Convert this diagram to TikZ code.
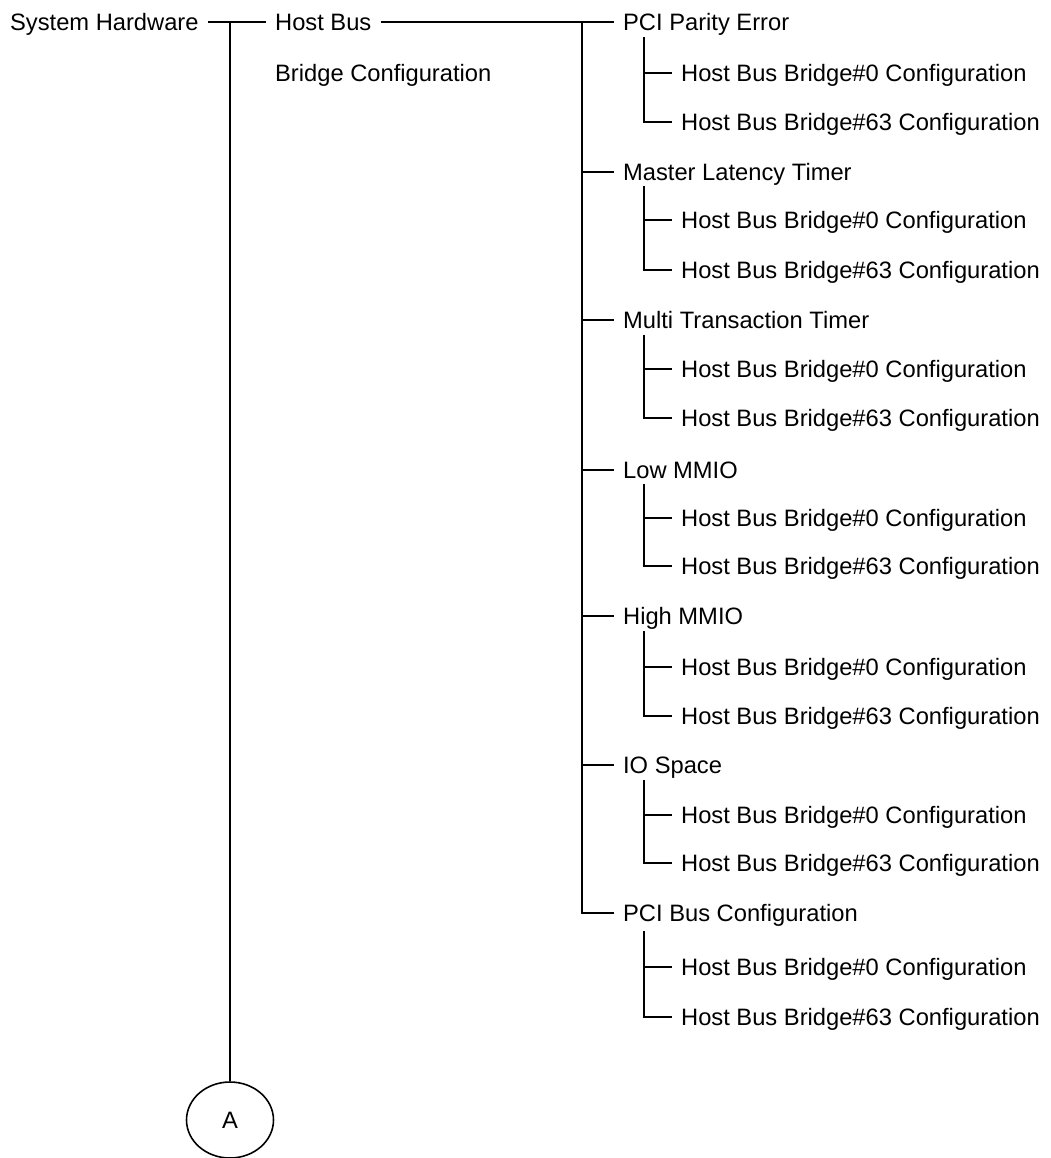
\documentclass[tikz,border=0pt]{standalone}
\usepackage{fontspec}
\setmainfont{Liberation Sans}
\usepackage{tikz}
\usetikzlibrary{positioning, calc, shapes.geometric}

\begin{document}
\begin{tikzpicture}[
        x=0.02cm, y=-0.02cm,
        lbl/.style={anchor=west, inner xsep=5pt, inner ysep=0pt, text height=12.5pt, text depth=2.8pt, font=\fontsize{13.5}{16}\selectfont},
        link/.style={line width=0.9pt}
    ]
    \useasboundingbox (0,0) rectangle (1050,1158);
    % top level
    \node[lbl] (sys) at (1,22) {System Hardware};
    \node[lbl] (host) at (266,22) {Host Bus};
    \node[lbl] (hostcfg) at (266,73) {Bridge Configuration};
    \node[draw, ellipse, line width=0.9pt, minimum width=1.74cm, minimum height=1.52cm, font=\fontsize{13.5}{16}\selectfont] (circA) at (230,1120) {A};
    \coordinate (bus) at (582,22);
    % settings
    \node[lbl] (parity) at (614,22) {PCI Parity Error};
    \node[lbl] (latency) at (614,172) {Master Latency Timer};
    \node[lbl] (multi) at (614,320) {Multi Transaction Timer};
    \node[lbl] (lowmmio) at (614,470) {Low MMIO};
    \node[lbl] (highmmio) at (614,616) {High MMIO};
    \node[lbl] (iospace) at (614,765) {IO Space};
    \node[lbl] (pcibus) at (614,913) {PCI Bus Configuration};
    % bridges
    \node[lbl] (parity0) at (672,73) {Host Bus Bridge\#0 Configuration};
    \node[lbl] (parity63) at (672,122) {Host Bus Bridge\#63 Configuration};
    \node[lbl] (latency0) at (672,220) {Host Bus Bridge\#0 Configuration};
    \node[lbl] (latency63) at (672,270) {Host Bus Bridge\#63 Configuration};
    \node[lbl] (multi0) at (672,369) {Host Bus Bridge\#0 Configuration};
    \node[lbl] (multi63) at (672,418) {Host Bus Bridge\#63 Configuration};
    \node[lbl] (lowmmio0) at (672,518) {Host Bus Bridge\#0 Configuration};
    \node[lbl] (lowmmio63) at (672,566) {Host Bus Bridge\#63 Configuration};
    \node[lbl] (highmmio0) at (672,667) {Host Bus Bridge\#0 Configuration};
    \node[lbl] (highmmio63) at (672,716) {Host Bus Bridge\#63 Configuration};
    \node[lbl] (iospace0) at (672,815) {Host Bus Bridge\#0 Configuration};
    \node[lbl] (iospace63) at (672,863) {Host Bus Bridge\#63 Configuration};
    \node[lbl] (pcibus0) at (672,967) {Host Bus Bridge\#0 Configuration};
    \node[lbl] (pcibus63) at (672,1017) {Host Bus Bridge\#63 Configuration};
    % forks
    \coordinate (fparity) at (644,37);
    \coordinate (flatency) at (644,186);
    \coordinate (fmulti) at (644,335);
    \coordinate (flowmmio) at (644,484);
    \coordinate (fhighmmio) at (644,631);
    \coordinate (fiospace) at (644,780);
    \coordinate (fpcibus) at (644,931);
    % lines
    \draw[link] (sys.east) -- (host.west);
    \draw[link] (circA.north |- sys.east) -- (circA.north);
    \draw[link] (host.east) -- (parity.west);
    \draw[link] (bus) |- (pcibus.west);
    \draw[link] (bus |- latency.west) -- (latency.west);
    \draw[link] (bus |- multi.west) -- (multi.west);
    \draw[link] (bus |- lowmmio.west) -- (lowmmio.west);
    \draw[link] (bus |- highmmio.west) -- (highmmio.west);
    \draw[link] (bus |- iospace.west) -- (iospace.west);
    \draw[link] (fparity) |- (parity63.west);
    \draw[link] (fparity |- parity0.west) -- (parity0.west);
    \draw[link] (flatency) |- (latency63.west);
    \draw[link] (flatency |- latency0.west) -- (latency0.west);
    \draw[link] (fmulti) |- (multi63.west);
    \draw[link] (fmulti |- multi0.west) -- (multi0.west);
    \draw[link] (flowmmio) |- (lowmmio63.west);
    \draw[link] (flowmmio |- lowmmio0.west) -- (lowmmio0.west);
    \draw[link] (fhighmmio) |- (highmmio63.west);
    \draw[link] (fhighmmio |- highmmio0.west) -- (highmmio0.west);
    \draw[link] (fiospace) |- (iospace63.west);
    \draw[link] (fiospace |- iospace0.west) -- (iospace0.west);
    \draw[link] (fpcibus) |- (pcibus63.west);
    \draw[link] (fpcibus |- pcibus0.west) -- (pcibus0.west);
\end{tikzpicture}
\end{document}
